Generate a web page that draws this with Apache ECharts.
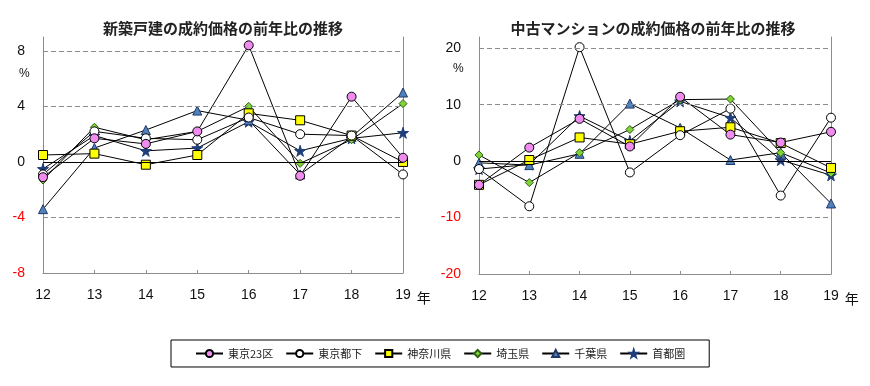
<!DOCTYPE html>
<html>
<head>
<meta charset="utf-8">
<script src="https://cdn.jsdelivr.net/npm/echarts@6/dist/echarts.min.js"></script>
<style>html,body{margin:0;padding:0;background:#fff}#c{width:870px;height:386px}</style>
</head>
<body>
<div id="c"></div>
<script>
var categories = ['12','13','14','15','16','17','18','19'];
var seriesNames = ['東京23区','東京都下','神奈川県','埼玉県','千葉県','首都圏'];

// 新築戸建 (left)
var tokyo23House   = [-1.1, 1.7, 1.3, 2.2, 8.4, -1.0, 4.7, 0.3];
var tamaHouse      = [-0.9, 2.2, 1.7, 1.6, 3.2, 2.0, 1.9, -0.9];
var kanagawaHouse  = [0.5, 0.6, -0.2, 0.5, 3.5, 3.0, 1.9, 0.0];
var saitamaHouse   = [-1.3, 2.5, 1.6, 2.2, 4.0, -0.1, 1.6, 4.2];
var chibaHouse     = [-3.4, 1.0, 2.3, 3.7, 3.0, -0.9, 1.8, 5.0];
var shutokenHouse  = [-0.5, 1.9, 0.8, 1.0, 2.9, 0.8, 1.7, 2.1];

// 中古マンション (right)
var tokyo23Mansion  = [-4.2, 2.4, 7.5, 2.6, 11.4, 4.7, 3.3, 5.2];
var tamaMansion     = [-1.4, -8.0, 20.2, -2.0, 4.6, 9.3, -6.1, 7.7];
var kanagawaMansion = [-4.2, 0.2, 4.2, 3.0, 5.3, 6.0, 3.2, -1.2];
var saitamaMansion  = [1.1, -3.8, 1.5, 5.6, 10.9, 11.0, 1.5, -2.1];
var chibaMansion    = [-0.3, -0.7, 1.3, 10.2, 5.9, 0.2, 1.5, -7.5];
var shutokenMansion = [-1.4, -0.6, 8.0, 3.6, 10.6, 7.7, 0.2, -2.5];

var leftTicks = [-8, -4, 0, 4, 8];
var rightTicks = [-20, -10, 0, 10, 20];
var leftDashed = [8, 4, -4];
var rightDashed = [20, 10, -10];

var starPath = 'path://M50,0 L61,35 L98,35 L68,57 L79,91 L50,70 L21,91 L32,57 L2,35 L39,35 Z';
var styles = [
  {symbol:'circle', size:9, color:'#f08cf0', border:'#000'},
  {symbol:'circle', size:9, color:'#ffffff', border:'#000'},
  {symbol:'rect', size:9, color:'#ffff00', border:'#000'},
  {symbol:'diamond', size:8, color:'#7ed23a', border:'#2f5e10'},
  {symbol:'triangle', size:9, color:'#4f81bd', border:'#1f3864'},
  {symbol:starPath, size:11, color:'#1f3d7a', border:'#1f3d7a'}
];

var houseData = [tokyo23House, tamaHouse, kanagawaHouse, saitamaHouse, chibaHouse, shutokenHouse];
var mansionData = [tokyo23Mansion, tamaMansion, kanagawaMansion, saitamaMansion, chibaMansion, shutokenMansion];

var font = '"Liberation Sans", "Noto Sans CJK JP", sans-serif';

function makeSeries(data, idx) {
  var out = [];
  data.forEach(function(arr, i) {
    var s = styles[i];
    out.push({
      name: seriesNames[i], type: 'line', xAxisIndex: idx, yAxisIndex: idx * 2,
      data: arr, symbol: s.symbol, symbolSize: s.size, showAllSymbol: true,
      lineStyle: {color: '#000', width: 1},
      itemStyle: {color: s.color, borderColor: s.border, borderWidth: 1},
      emphasis: {disabled: true}, animation: false, z: 3
    });
  });
  // first series drawn on top
  return out.reverse();
}

function gridLines(idx, dashed) {
  var d = dashed.map(function(v){ return {yAxis: v, lineStyle:{color:'#8c8c8c', type:[5,3], width:1}}; });
  d.push({yAxis: 0, lineStyle:{color:'#000', type:'solid', width:1}});
  return {
    type: 'line', xAxisIndex: idx, yAxisIndex: idx * 2, data: [], silent: true, animation: false, z: 2,
    markLine: {silent: true, symbol: ['none','none'], label: {show:false}, animation:false, data: d}
  };
}

function yAxes(idx, min, max, interval) {
  return [
    {gridIndex: idx, type:'value', min:min, max:max, interval:interval, position:'left',
     axisLine:{show:true, lineStyle:{color:'#8c8c8c', width:1}}, axisTick:{show:false},
     splitLine:{show:false},
     axisLabel:{fontSize:14, fontFamily:font, margin:18, showMaxLabel:false,
       formatter:function(v){ return (v === max) ? '' : String(v); },
       color:function(v){ return Number(v) < 0 ? '#ff0000' : '#111'; }}},
    {gridIndex: idx, type:'value', min:min, max:max, interval:interval, position:'right',
     axisLine:{show:true, lineStyle:{color:'#8c8c8c', width:1}}, axisTick:{show:false},
     splitLine:{show:false}, axisLabel:{show:false}}
  ];
}

function xAxis(idx) {
  return {
    gridIndex: idx, type:'category', data: categories, boundaryGap:false,
    axisLine:{onZero:false, lineStyle:{color:'#8c8c8c', width:1}},
    axisTick:{show:true, inside:true, length:3, lineStyle:{color:'#8c8c8c'}},
    axisLabel:{fontSize:14, fontFamily:font, color:'#111', margin:15},
    name:'年', nameLocation:'end', nameGap:-3,
    nameTextStyle:{fontSize:14, fontFamily:'"Noto Sans CJK JP", sans-serif', color:'#111', verticalAlign:'top', padding:[18,0,0,0]}
  };
}

var chart = echarts.init(document.getElementById('c'), null, {renderer:'canvas'});
var series = [].concat(
  [gridLines(0, leftDashed)], makeSeries(houseData, 0),
  [gridLines(1, rightDashed)], makeSeries(mansionData, 1)
);

chart.setOption({
  backgroundColor: '#fff',
  animation: false,
  title: [
    {text:'新築戸建の成約価格の前年比の推移', left:218, top:16, textAlign:'center',
     textStyle:{fontSize:15, fontWeight:'bold', color:'#222', fontFamily:'"Noto Sans CJK JP", sans-serif'}},
    {text:'中古マンションの成約価格の前年比の推移', left:648, top:16, textAlign:'center',
     textStyle:{fontSize:15, fontWeight:'bold', color:'#222', fontFamily:'"Noto Sans CJK JP", sans-serif'}}
  ],
  grid: [
    {left:43, top:37, width:360, height:236},
    {left:479, top:37, width:352, height:237}
  ],
  xAxis: [xAxis(0), xAxis(1)],
  yAxis: [].concat(yAxes(0, -8, 9, 4), yAxes(1, -20, 22, 10)),
  legend: {
    data: seriesNames, left: 171, top: 340, width: 600,
    itemWidth: 27, itemHeight: 9, itemGap: 12,
    padding: [8, 24, 8, 24], borderColor:'#000', borderWidth:1,
    textStyle:{fontSize:11, color:'#222', fontFamily:'"Noto Sans CJK JP", sans-serif'}
  },
  graphic: [
    {type:'text', left:19, top:68, style:{text:'%', fontSize:12, fill:'#111', fontFamily:font}},
    {type:'text', left:453, top:63, style:{text:'%', fontSize:12, fill:'#111', fontFamily:font}}
  ],
  series: series
});
</script>
</body>
</html>
